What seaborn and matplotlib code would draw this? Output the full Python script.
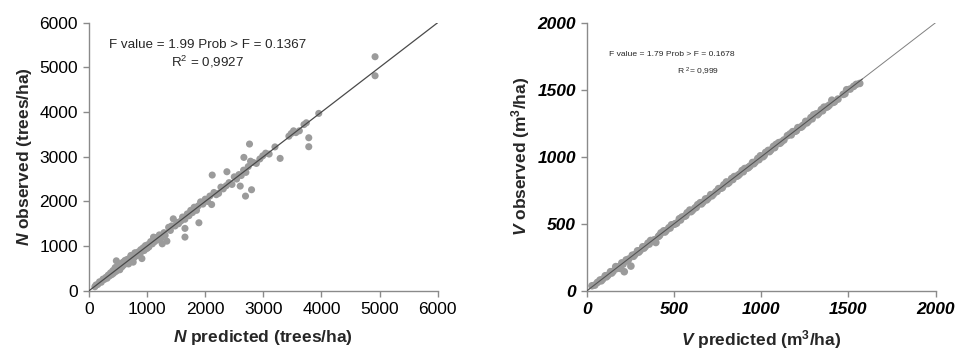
import matplotlib
matplotlib.use("Agg")
import matplotlib.pyplot as plt
import seaborn as sns
import pandas as pd

# N (trees/ha) - predicted vs observed
n_pred = [100, 120, 150, 180, 210, 240, 260, 290, 310, 330,
          350, 370, 390, 410, 420, 440, 460, 470, 480, 490,
          500, 515, 525, 540, 555, 570, 585, 600, 620, 640,
          655, 670, 690, 705, 720, 740, 760, 775, 790, 810,
          830, 850, 870, 890, 910, 930, 950, 970, 990, 1010,
          1030, 1060, 1090, 1110, 1130, 1160, 1190, 1210, 1240, 1260,
          1290, 1310, 1340, 1370, 1400, 1420, 1450, 1480, 1510, 1540,
          1580, 1610, 1650, 1690, 1720, 1750, 1780, 1810, 1850, 1880,
          1920, 1960, 2000, 2040, 2080, 2110, 2150, 2190, 2230, 2270,
          2310, 2360, 2410, 2460, 2500, 2540, 2580, 2620, 2660, 2700,
          2740, 2780, 2830, 2880, 2940, 2990, 3040, 3100, 3200, 3440,
          3480, 3520, 3560, 3620, 3700, 3740, 4923, 4923, 3954, 3782,
          3782, 3289, 2762, 2797, 2693, 2665, 2602, 2373, 2120, 1891,
          1651, 1651, 760, 450, 530, 610, 680, 800, 880, 1000]
n_obs = [90, 130, 140, 200, 190, 260, 250, 300, 280, 350,
         330, 400, 360, 450, 390, 470, 430, 670, 500, 460,
         560, 480, 600, 520, 590, 540, 640, 580, 680, 610,
         700, 640, 720, 660, 790, 700, 800, 740, 850, 780,
         790, 870, 830, 920, 720, 960, 900, 1010, 950, 1030,
         980, 1100, 1050, 1200, 1100, 1190, 1140, 1250, 1180, 1050,
         1300, 1240, 1110, 1420, 1350, 1450, 1610, 1450, 1530, 1500,
         1560, 1650, 1600, 1720, 1680, 1800, 1750, 1870, 1800, 1900,
         1990, 1940, 2050, 2000, 2120, 1930, 2200, 2150, 2180, 2320,
         2280, 2350, 2420, 2380, 2550, 2500, 2600, 2580, 2700, 2650,
         2780, 2900, 2870, 2850, 2950, 3020, 3080, 3060, 3220, 3460,
         3520, 3580, 3540, 3580, 3720, 3760, 5239, 4813, 3970, 3425,
         3224, 2963, 3284, 2261, 2119, 2985, 2343, 2664, 2590, 1522,
         1396, 1201, 640, 520, 470, 650, 600, 840, 830, 950]

# V (m3/ha) - predicted vs observed
v_pred = [29, 45, 60, 75, 82, 90, 105, 112, 120, 135,
          142, 150, 165, 172, 180, 191, 200, 207, 214, 225,
          232, 240, 252, 260, 267, 275, 290, 297, 305, 320,
          327, 335, 350, 357, 365, 380, 387, 395, 410, 417,
          425, 440, 447, 455, 470, 477, 485, 500, 507, 515,
          530, 537, 545, 560, 567, 575, 590, 597, 605, 620,
          627, 635, 650, 657, 665, 680, 687, 695, 710, 717,
          725, 740, 747, 755, 770, 777, 785, 800, 807, 815,
          830, 837, 845, 860, 867, 875, 890, 897, 905, 920,
          927, 935, 950, 957, 965, 980, 987, 995, 1010, 1017,
          1025, 1040, 1047, 1055, 1070, 1077, 1085, 1100, 1107, 1115,
          1130, 1150, 1165, 1172, 1180, 1195, 1202, 1210, 1225, 1232,
          1240, 1255, 1262, 1270, 1285, 1292, 1300, 1315, 1322, 1330,
          1345, 1352, 1360, 1375, 1382, 1390, 1405, 1412, 1420, 1440,
          1470, 1480, 1490, 1510, 1530, 1545, 1565]
v_obs = [37, 42, 62, 80, 74, 86, 112, 104, 115, 142,
         132, 145, 180, 166, 178, 167, 208, 198, 142, 230,
         222, 237, 184, 265, 257, 270, 298, 288, 300, 328,
         318, 330, 355, 348, 375, 375, 380, 360, 405, 414,
         432, 447, 438, 450, 470, 468, 492, 496, 500, 505,
         537, 528, 550, 556, 560, 582, 602, 590, 600, 618,
         622, 642, 657, 648, 660, 685, 678, 690, 717, 708,
         720, 738, 742, 762, 765, 770, 790, 812, 800, 808,
         837, 830, 852, 855, 860, 870, 897, 888, 912, 915,
         920, 930, 957, 948, 960, 987, 978, 1007, 1000, 1010,
         1032, 1047, 1038, 1050, 1077, 1068, 1092, 1105, 1100, 1110,
         1125, 1157, 1170, 1163, 1187, 1190, 1195, 1217, 1220, 1223,
         1235, 1264, 1253, 1265, 1292, 1283, 1312, 1320, 1313, 1325,
         1352, 1343, 1370, 1370, 1375, 1385, 1422, 1405, 1410, 1430,
         1465, 1470, 1500, 1505, 1525, 1540, 1547]

left_lim = [0, 6000]
right_lim = [0, 2000]

sns.set_theme(style="white")
plt.rcParams["font.family"] = ["Liberation Sans", "DejaVu Sans"]
plt.rcParams["mathtext.fontset"] = "custom"
plt.rcParams["mathtext.rm"] = "Liberation Sans"
plt.rcParams["mathtext.it"] = "Liberation Sans:italic"
plt.rcParams["mathtext.bf"] = "Liberation Sans:bold"
plt.rcParams["mathtext.bfit"] = "Liberation Sans:italic:bold"

df_n = pd.DataFrame({"pred": n_pred, "obs": n_obs})
df_v = pd.DataFrame({"pred": v_pred, "obs": v_obs})

fig = plt.figure(figsize=(9.71, 3.55), dpi=100)
ax1 = fig.add_axes([0.0917, 0.181, 0.359, 0.755])
ax2 = fig.add_axes([0.6045, 0.181, 0.359, 0.755])

pt_col = "#9b9b9b"
spine_col = "#8a8a8a"

# left panel
ax1.plot(left_lim, left_lim, color="#4a4a4a", lw=0.9, zorder=3)
sns.scatterplot(data=df_n, x="pred", y="obs", ax=ax1, color=pt_col,
                s=26, edgecolor="none", zorder=2)
ax1.set_xlim(left_lim)
ax1.set_ylim(left_lim)
ax1.set_xticks(range(0, 6001, 1000))
ax1.set_yticks(range(0, 6001, 1000))
ax1.set_xlabel(r"$\mathbfit{N}$ predicted (trees/ha)", fontsize=12.5,
               fontweight="bold", labelpad=8)
ax1.set_ylabel(r"$\mathbfit{N}$ observed (trees/ha)", fontsize=12.5,
               fontweight="bold", labelpad=4)
ax1.text(0.34, 0.905, "F value = 1.99 Prob > F = 0.1367", transform=ax1.transAxes,
         ha="center", fontsize=9.6)
ax1.text(0.34, 0.835, r"R$^2$ = 0,9927", transform=ax1.transAxes,
         ha="center", fontsize=9.6)

# right panel
ax2.plot(right_lim, right_lim, color="#808080", lw=0.7, zorder=1)
sns.scatterplot(data=df_v, x="pred", y="obs", ax=ax2, color=pt_col,
                s=30, edgecolor="none", zorder=2)
ax2.plot([0, 1580], [0, 1580], color="#555555", lw=0.8, zorder=3)
ax2.set_xlim(right_lim)
ax2.set_ylim(right_lim)
ax2.set_xticks(range(0, 2001, 500))
ax2.set_yticks(range(0, 2001, 500))
ax2.set_xlabel(r"$\mathbfit{V}$ predicted (m$^{\mathbf{3}}$/ha)", fontsize=12.5,
               fontweight="bold", labelpad=8)
ax2.set_ylabel(r"$\mathbfit{V}$ observed (m$^{\mathbf{3}}$/ha)", fontsize=12.5,
               fontweight="bold", labelpad=4)
ax2.text(0.244, 0.875, "F value = 1.79 Prob > F = 0.1678", transform=ax2.transAxes,
         ha="center", fontsize=6.1)
ax2.text(0.318, 0.805, r"R $^{2}$= 0,999", transform=ax2.transAxes,
         ha="center", fontsize=6.1)

for ax in (ax1, ax2):
    for side in ("top", "right"):
        ax.spines[side].set_visible(False)
    for side in ("left", "bottom"):
        ax.spines[side].set_color(spine_col)
        ax.spines[side].set_linewidth(1.0)
    ax.tick_params(direction="out", length=4, width=1, color=spine_col,
                   labelsize=12.5, labelcolor="black", pad=4)
    ax.tick_params(axis="both", which="both", bottom=True, left=True)

for lab in ax2.get_xticklabels() + ax2.get_yticklabels():
    lab.set_fontweight("bold")
    lab.set_fontstyle("italic")

fig.savefig("out.png", dpi=100)
